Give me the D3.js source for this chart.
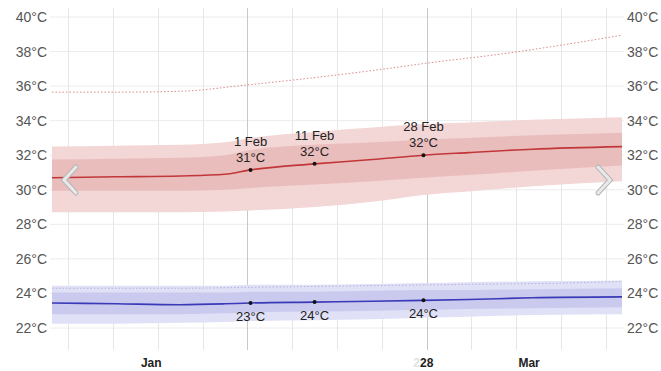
<!DOCTYPE html>
<html lang="en">
<head>
	<meta charset="UTF-8">
	<title>Daily temperatures</title>
	<script src="https://cdn.jsdelivr.net/npm/d3@7/dist/d3.min.js"></script>
	<style>
		body { margin: 0; background: #fff; }
		text { font-family: Arial, "Liberation Sans", sans-serif; }
	</style>
</head>
<body>
<svg width="661" height="371"></svg>
<script>
	// day 0 = 1 Jan
	const highDays   = [0, 10, 20, 27, 31, 41, 50, 58, 65, 75, 89];
	const highMean   = [30.7, 30.75, 30.8, 30.9, 31.15, 31.5, 31.75, 32.0, 32.15, 32.35, 32.5];
	const highP90    = [32.5, 32.55, 32.6, 32.75, 33.0, 33.35, 33.6, 33.8, 33.9, 34.05, 34.2];
	const highP75    = [31.75, 31.8, 31.85, 32.0, 32.3, 32.6, 32.75, 32.9, 33.0, 33.15, 33.3];
	const highP25    = [29.95, 29.95, 29.95, 30.0, 30.1, 30.3, 30.5, 30.7, 30.85, 31.1, 31.4];
	const highP10    = [28.7, 28.7, 28.7, 28.75, 28.8, 29.0, 29.3, 29.7, 29.9, 30.2, 30.5];
	const recordDays = [0, 10, 20, 30, 40, 50, 60, 70, 80, 89];
	const recordHigh = [35.65, 35.65, 35.7, 36.05, 36.45, 36.9, 37.4, 37.85, 38.4, 38.95];

	const lowMean    = [23.45, 23.4, 23.35, 23.4, 23.45, 23.5, 23.55, 23.6, 23.65, 23.75, 23.8];
	const lowP90     = [24.45, 24.45, 24.45, 24.45, 24.5, 24.5, 24.55, 24.6, 24.65, 24.7, 24.75];
	const lowP75     = [24.05, 24.05, 24.05, 24.05, 24.1, 24.1, 24.15, 24.2, 24.2, 24.25, 24.3];
	const lowP25     = [22.8, 22.8, 22.8, 22.85, 22.9, 22.95, 23.0, 23.05, 23.1, 23.15, 23.2];
	const lowP10     = [22.25, 22.25, 22.3, 22.35, 22.4, 22.45, 22.5, 22.6, 22.65, 22.75, 22.8];
	const recordLow  = [24.3, 24.3, 24.3, 24.35, 24.4, 24.45, 24.5, 24.55, 24.6, 24.7];

	const yTicks = [22, 24, 26, 28, 30, 32, 34, 36, 38, 40];
	const monthLabels = [{ day: 15.5, text: "Jan" }, { day: 58.5, text: "28" }, { day: 74.5, text: "Mar" }];
	const gridDays = d3.range(2.5, 89, 7);
	const notes = [
		{ day: 31, date: "1 Feb", high: 31.15, highText: "31°C", low: 23.45, lowText: "23°C" },
		{ day: 41, date: "11 Feb", high: 31.5, highText: "32°C", low: 23.5, lowText: "24°C" },
		{ day: 58, date: "28 Feb", high: 32.0, highText: "32°C", low: 23.6, lowText: "24°C" }
	];

	var svg = d3.select("svg");
	var x = d3.scaleLinear().domain([0, 89]).range([52, 622]);
	var y = d3.scaleLinear().domain([22, 40]).range([328, 17]);

	// grid
	svg.append("g").selectAll("line").data(yTicks).enter().append("line")
		.attr("x1", 50).attr("x2", 624)
		.attr("y1", d => y(d)).attr("y2", d => y(d))
		.attr("stroke", "#ececec").attr("stroke-width", 1);

	svg.append("g").selectAll("line").data(gridDays).enter().append("line")
		.attr("x1", d => Math.round(x(d)) + 0.5).attr("x2", d => Math.round(x(d)) + 0.5)
		.attr("y1", 8).attr("y2", 350)
		.attr("stroke", (d, i) => (i == 4 || i == 8) ? "#c8c8c8" : "#e6e6e6")
		.attr("stroke-width", 1);

	function band(days, lo, hi, color) {
		var a = d3.area()
			.x((d, i) => x(days[i]))
			.y0((d, i) => y(lo[i]))
			.y1((d, i) => y(hi[i]))
			.curve(d3.curveMonotoneX);
		svg.append("path").attr("d", a(days)).attr("fill", color);
	}
	function line(days, vals, color, width, dash) {
		var l = d3.line()
			.x((d, i) => x(days[i]))
			.y((d, i) => y(vals[i]))
			.curve(d3.curveMonotoneX);
		svg.append("path").attr("d", l(days))
			.attr("fill", "none")
			.attr("stroke", color)
			.attr("stroke-width", width)
			.attr("stroke-dasharray", dash);
	}

	band(highDays, highP10, highP90, "#f3d6d6");
	band(highDays, highP25, highP75, "#eabdbd");
	line(highDays, highMean, "#c0373a", 1.6, null);
	line(recordDays, recordHigh, "#d98a8c", 1, "1.5,2");

	band(highDays, lowP10, lowP90, "#e0e0f6");
	band(highDays, lowP25, lowP75, "#cacaef");
	line(highDays, lowMean, "#3a3ab8", 1.6, null);
	line(recordDays, recordLow, "#b4b4de", 1, "1.5,2");

	// axis labels
	svg.append("g").selectAll("text").data(yTicks).enter().append("text")
		.attr("x", 47).attr("y", d => y(d) + 5)
		.attr("text-anchor", "end")
		.attr("font-size", 14).attr("fill", "#555")
		.text(d => d + "°C");
	svg.append("g").selectAll("text").data(yTicks).enter().append("text")
		.attr("x", 627).attr("y", d => y(d) + 5)
		.attr("font-size", 14).attr("fill", "#555")
		.text(d => d + "°C");

	svg.append("text")
		.attr("x", x(58.5) - 10).attr("y", 367)
		.attr("text-anchor", "middle")
		.attr("font-size", 12).attr("font-weight", "bold").attr("fill", "#e2e2e2")
		.text("2");
	svg.append("g").selectAll("text").data(monthLabels).enter().append("text")
		.attr("x", d => x(d.day)).attr("y", 367)
		.attr("text-anchor", "middle")
		.attr("font-size", 12).attr("font-weight", "bold").attr("fill", "#222")
		.text(d => d.text);

	// annotations
	var n = svg.append("g").selectAll("g").data(notes).enter().append("g");
	n.append("circle").attr("cx", d => x(d.day)).attr("cy", d => y(d.high)).attr("r", 2).attr("fill", "#111");
	n.append("circle").attr("cx", d => x(d.day)).attr("cy", d => y(d.low)).attr("r", 2).attr("fill", "#111");
	n.append("text").attr("x", d => x(d.day)).attr("y", d => y(d.high) - 24)
		.attr("text-anchor", "middle").attr("font-size", 13).attr("fill", "#222").text(d => d.date);
	n.append("text").attr("x", d => x(d.day)).attr("y", d => y(d.high) - 8)
		.attr("text-anchor", "middle").attr("font-size", 13).attr("fill", "#222").text(d => d.highText);
	n.append("text").attr("x", d => x(d.day)).attr("y", d => y(d.low) + 18)
		.attr("text-anchor", "middle").attr("font-size", 13).attr("fill", "#222").text(d => d.lowText);

	// scroll arrows
	[["M76,167 L64,180 L76,193"], ["M598,167 L610,180 L598,193"]].forEach(p => {
		svg.append("path").attr("d", p[0]).attr("fill", "none").attr("stroke", "#b5b5b5").attr("stroke-width", 5).attr("stroke-linecap", "round");
		svg.append("path").attr("d", p[0]).attr("fill", "none").attr("stroke", "#e9e9e9").attr("stroke-width", 3).attr("stroke-linecap", "round");
	});
</script>
</body>
</html>
